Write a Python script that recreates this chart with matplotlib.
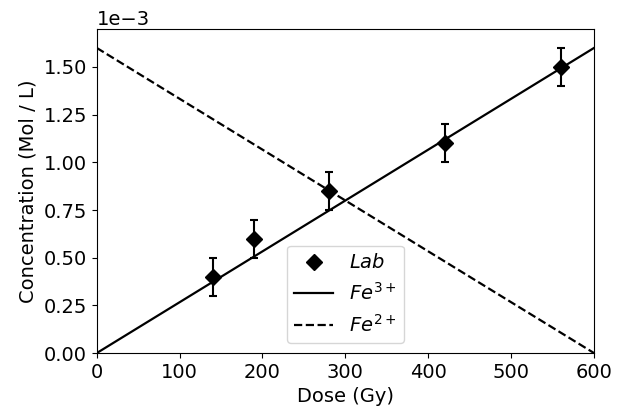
import numpy as np
import matplotlib
matplotlib.use("Agg")
import matplotlib.pyplot as plt

# Measured points
dose = [140, 190, 280, 420, 560]
conc = [0.40e-3, 0.60e-3, 0.85e-3, 1.10e-3, 1.50e-3]
err = [0.1e-3, 0.1e-3, 0.1e-3, 0.1e-3, 0.1e-3]

# Theory lines
line_x = [0, 600]
fe3 = [0.0, 1.6e-3]
fe2 = [1.6e-3, 0.0]

plt.rcParams["font.size"] = 14

fig = plt.figure(figsize=(6.24, 4.12), dpi=100)
ax = fig.add_subplot(111)
fig.subplots_adjust(left=0.155, right=0.952, top=0.93, bottom=0.143)

ax.plot(dose, conc, "kD", markersize=8, label=r"$Lab$")
ax.errorbar(dose, conc, yerr=err, fmt="none", ecolor="k", elinewidth=1.5,
            capsize=3, capthick=1.5)
ax.plot(line_x, fe3, "k-", lw=1.6, label=r"$Fe^{3+}$")
ax.plot(line_x, fe2, "k--", lw=1.6, label=r"$Fe^{2+}$")

ax.set_xlim(0, 600)
ax.set_ylim(0, 1.70e-3)
ax.ticklabel_format(axis="y", style="sci", scilimits=(-3, -3))
ax.set_xlabel("Dose (Gy)")
ax.set_ylabel("Concentration (Mol / L)")
ax.legend(loc="lower center")

fig.savefig("out.png")
